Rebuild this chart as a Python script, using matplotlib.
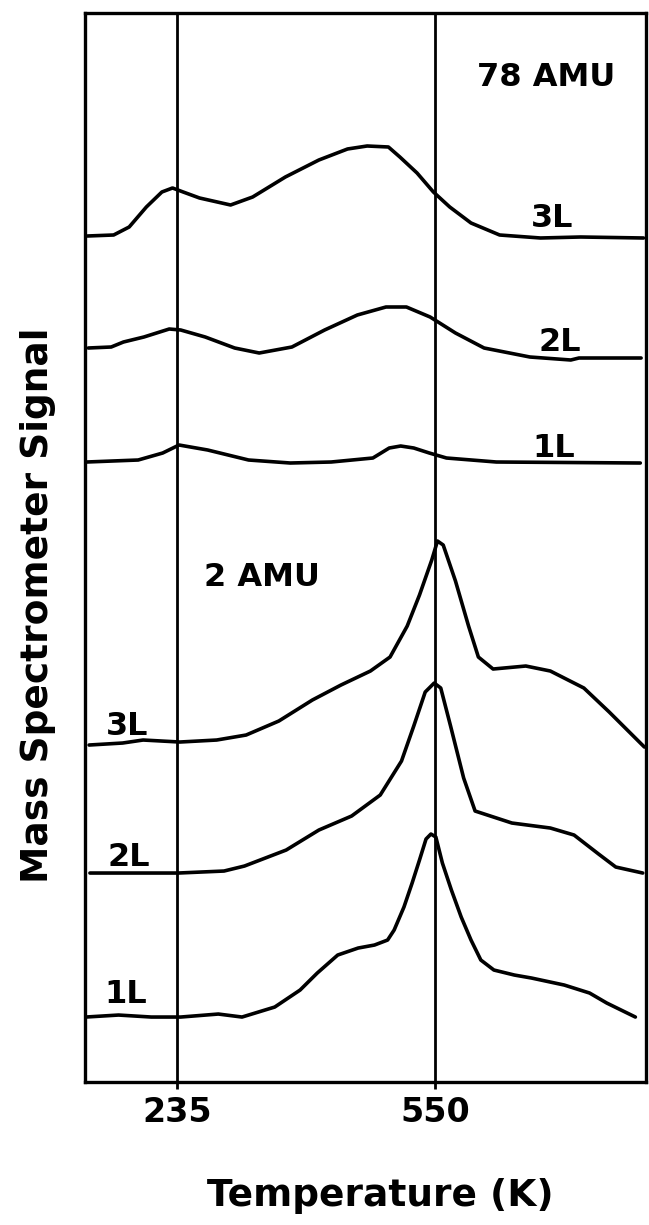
import numpy as np
import matplotlib
matplotlib.use("Agg")
import matplotlib.pyplot as plt

plt.rcParams['font.family'] = ['DejaVu Sans']
plt.rcParams['font.weight'] = 'bold'
plt.rcParams['axes.labelweight'] = 'bold'

# reference temperatures marked by vertical lines
marks = [235, 550]

# 78 AMU traces (temperature K, signal arb. units above baseline)
t78_3 = [125, 157, 176, 197, 216, 229, 242, 262, 300, 327, 367, 408, 443, 467,
         493, 507, 528, 548, 568, 594, 629, 679, 728, 805]
s78_3 = [0, 1, 9, 29, 44, 48, 44, 38, 31, 39, 59, 76, 87, 90,
         89, 79, 63, 44, 29, 13, 1, -2, -1, -2]
t78_2 = [126, 154, 169, 194, 225, 239, 269, 305, 335, 375, 415, 455, 490, 515,
         544, 575, 610, 666, 716, 726, 802]
s78_2 = [0, 1, 6, 11, 19, 18, 11, 0, -5, 1, 18, 33, 41, 41,
         31, 15, 0, -9, -12, -10, -10]
t78_1 = [124, 187, 217, 232, 237, 272, 322, 373, 423, 474, 494, 508, 524, 543,
         564, 625, 801]
s78_1 = [0, 2, 9, 15, 17, 12, 2, -1, 0, 4, 14, 16, 14, 9, 4, 0, -1]

# 2 AMU traces
t2_3 = [127, 168, 193, 238, 283, 319, 359, 400, 435, 471, 495, 516, 531, 546,
        553, 560, 575, 591, 603, 621, 661, 691, 732, 763, 806]
s2_3 = [-2, 0, 3, 1, 3, 8, 22, 43, 58, 72, 86, 117, 148, 183,
        202, 198, 162, 117, 86, 74, 77, 72, 55, 31, -4]
t2_2 = [128, 166, 236, 292, 317, 368, 408, 448, 483, 509, 524, 538, 549, 557,
        569, 585, 599, 644, 691, 720, 750, 771, 804]
s2_2 = [0, 0, 0, 2, 7, 23, 43, 57, 78, 112, 147, 181, 190, 185,
        147, 95, 62, 50, 45, 38, 19, 6, 0]
t2_1 = [123, 163, 203, 239, 285, 314, 354, 385, 406, 431, 456, 476, 492, 500,
        512, 522, 531, 539, 545, 551, 559, 570, 582, 594, 606, 622, 647, 668,
        708, 739, 760, 795]
s2_1 = [0, 2, 0, 0, 3, 0, 10, 27, 44, 62, 69, 72, 77, 87,
        110, 134, 157, 178, 183, 180, 154, 127, 100, 77, 57, 47, 42, 39,
        32, 24, 14, 0]

# vertical offsets of each trace
off78 = [846, 734, 620]
off2 = [339, 209, 65]
layers = ['3L', '2L', '1L']

fig = plt.figure(figsize=(6.49, 12.25), dpi=100)
ax = fig.add_axes([0.131, 0.1167, 0.8644, 0.8727])

for t, s, o in zip([t78_3, t78_2, t78_1], [s78_3, s78_2, s78_1], off78):
    ax.plot(t, np.array(s) + o, color='black', lw=2.6,
            solid_joinstyle='round', solid_capstyle='round')
for t, s, o in zip([t2_3, t2_2, t2_1], [s2_3, s2_2, s2_1], off2):
    ax.plot(t, np.array(s) + o, color='black', lw=2.6,
            solid_joinstyle='round', solid_capstyle='round')

for m in marks:
    ax.axvline(m, color='black', lw=2.0)

# labels
ax.text(686, 1004, '78 AMU', fontsize=23, ha='center', va='center')
for lab, x, y in zip(layers, [693, 703, 695], [863, 740, 634]):
    ax.text(x, y, lab, fontsize=23, ha='center', va='center')
ax.text(339, 505, '2 AMU', fontsize=23, ha='center', va='center')
for lab, x, y in zip(layers, [174, 176, 172], [356, 225, 88]):
    ax.text(x, y, lab, fontsize=23, ha='center', va='center')

ax.set_xlim(122, 808)
ax.set_ylim(0, 1069)
ax.set_xticks(marks)
ax.set_xticklabels([str(m) for m in marks], fontsize=24, fontweight='bold')
ax.set_yticks([])
ax.tick_params(axis='x', direction='out', length=5, width=2, pad=5)
for sp in ax.spines.values():
    sp.set_linewidth(2.4)

ax.set_xlabel('Temperature (K)', fontsize=27, fontweight='bold')
ax.xaxis.set_label_coords(0.526, -0.090)
ax.set_ylabel('Mass Spectrometer Signal', fontsize=27, fontweight='bold')
ax.yaxis.set_label_coords(-0.052, 0.446)

fig.savefig('out.png', dpi=100)
